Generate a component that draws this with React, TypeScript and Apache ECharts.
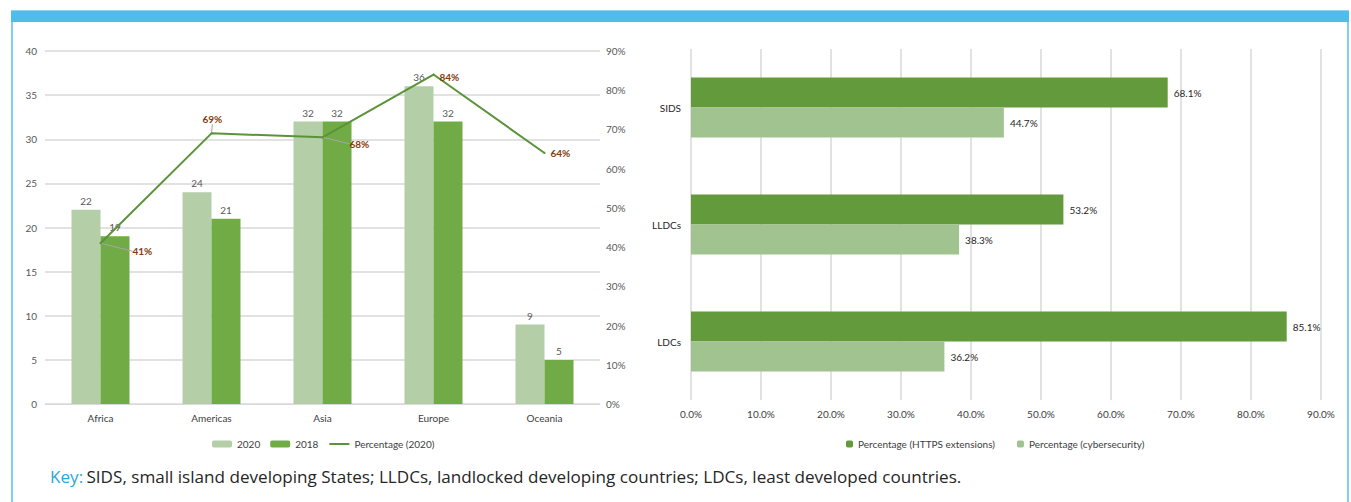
import React, { useEffect, useRef } from 'react';
import * as echarts from 'echarts';

const regions = ['Africa', 'Americas', 'Asia', 'Europe', 'Oceania'];
const count2020 = [22, 24, 32, 36, 9];
const count2018 = [19, 21, 32, 32, 5];
const pct2020 = [41, 69, 68, 84, 64];

const groups = ['LDCs', 'LLDCs', 'SIDS'];
const httpsPct = [85.1, 53.2, 68.1];
const cyberPct = [36.2, 38.3, 44.7];

const leftLegend = ['2020', '2018', 'Percentage (2020)'];
const rightLegend = ['Percentage (HTTPS extensions)', 'Percentage (cybersecurity)'];
const keyLabel = 'Key:';
const keyText = 'SIDS, small island developing States; LLDCs, landlocked developing countries; LDCs, least developed countries.';

const FONT = 'Lato';

// label offsets for the percentage line (style only)
const pctLabelShift = [
  { dx: 26, dy: 8, line: true },
  { dx: -15, dy: -14, line: true },
  { dx: 21, dy: 6.5, line: true },
  { dx: 0, dy: 2, line: false },
  { dx: 0, dy: 0, line: false },
];

export default function App() {
  const ref = useRef<HTMLDivElement>(null);
  useEffect(() => {
    if (!ref.current) return;
    const chart = echarts.init(ref.current, null, { renderer: 'svg' });
    const axisText = { color: '#595959', fontSize: 10, fontFamily: FONT };
    const option: any = {
      animation: false,
      textStyle: { fontFamily: FONT },
      graphic: [
        { type: 'rect', shape: { x: 11, y: 10, width: 1338, height: 12 }, style: { fill: '#4FBDEB' } },
        { type: 'rect', shape: { x: 11, y: 10, width: 1338, height: 1 }, style: { fill: '#8FD5F3' } },
        { type: 'rect', shape: { x: 11, y: 22, width: 2, height: 480 }, style: { fill: '#7FCFF0' } },
        { type: 'rect', shape: { x: 1347, y: 22, width: 2, height: 480 }, style: { fill: '#7FCFF0' } },
        {
          type: 'text',
          x: 50,
          y: 476,
          style: {
            text: `{k|${keyLabel}} {t|${keyText}}`,
            verticalAlign: 'middle',
            rich: {
              k: { fill: '#29A8E0', fontSize: 17.1, fontFamily: 'Open Sans' },
              t: { fill: '#262626', fontSize: 17.1, fontFamily: 'Open Sans' },
            },
          },
        },
      ],
      legend: [
        {
          data: [
            leftLegend[0],
            leftLegend[1],
            { name: leftLegend[2], itemStyle: { opacity: 0 } },
          ],
          left: 207,
          top: 434,
          itemWidth: 20,
          itemHeight: 7,
          itemGap: 10,
          textStyle: { color: '#404040', fontSize: 10, fontFamily: FONT },
        },
        {
          data: rightLegend,
          left: 841,
          top: 434,
          itemWidth: 7,
          itemHeight: 7,
          itemGap: 22,
          textStyle: { color: '#404040', fontSize: 10, fontFamily: FONT },
        },
      ],
      grid: [
        { left: 45, top: 51, width: 555, height: 353 },
        { left: 691, top: 49, width: 630, height: 351 },
      ],
      xAxis: [
        {
          type: 'category',
          gridIndex: 0,
          data: regions,
          axisLine: { lineStyle: { color: '#D9D9D9' } },
          axisTick: { show: false },
          axisLabel: { ...axisText, color: '#404040', margin: 9 },
        },
        {
          type: 'value',
          gridIndex: 1,
          min: 0,
          max: 90,
          interval: 10,
          axisLine: { show: false },
          axisTick: { show: false },
          splitLine: { lineStyle: { color: '#D9D9D9', width: 1.5 } },
          axisLabel: { ...axisText, color: '#404040', margin: 9, formatter: (v: number) => v.toFixed(1) + '%' },
        },
      ],
      yAxis: [
        {
          type: 'value',
          gridIndex: 0,
          min: 0,
          max: 40,
          interval: 5,
          axisLine: { show: false },
          axisTick: { show: false },
          splitLine: { lineStyle: { color: '#D9D9D9', width: 1.5 } },
          axisLabel: { ...axisText, margin: 8 },
        },
        {
          type: 'value',
          gridIndex: 0,
          position: 'right',
          min: 0,
          max: 90,
          interval: 10,
          axisLine: { show: false },
          axisTick: { show: false },
          splitLine: { show: false },
          axisLabel: { ...axisText, margin: 6, formatter: '{value}%' },
        },
        {
          type: 'category',
          gridIndex: 1,
          data: groups,
          axisLine: { show: false },
          axisTick: { show: false },
          axisLabel: { ...axisText, color: '#262626', margin: 10 },
        },
      ],
      series: [
        {
          name: '2020',
          type: 'bar',
          xAxisIndex: 0,
          yAxisIndex: 0,
          data: count2020,
          barWidth: 29,
          barGap: '0%',
          itemStyle: { color: '#B4CEA8' },
          label: { show: true, position: 'top', color: '#595959', fontSize: 10, distance: 4, fontFamily: FONT },
        },
        {
          name: '2018',
          type: 'bar',
          xAxisIndex: 0,
          yAxisIndex: 0,
          data: count2018,
          barWidth: 29,
          barGap: '0%',
          itemStyle: { color: '#70AB46' },
          label: { show: true, position: 'top', color: '#595959', fontSize: 10, distance: 4, fontFamily: FONT },
        },
        {
          name: 'Percentage (2020)',
          type: 'line',
          xAxisIndex: 0,
          yAxisIndex: 1,
          data: pct2020.map((v, i) => ({ value: v, labelLine: { show: pctLabelShift[i].line } })),
          symbol: 'circle',
          symbolSize: 2,
          itemStyle: { color: '#5B9338' },
          lineStyle: { color: '#5B9338', width: 2 },
          label: {
            show: true,
            position: 'right',
            distance: 5,
            formatter: '{c}%',
            color: '#843C0C',
            fontWeight: 'bold',
            fontSize: 10,
            fontFamily: FONT,
          },
          labelLine: { show: true, lineStyle: { color: '#A6A6A6', width: 1 } },
          labelLayout: (p: any) => ({ dx: pctLabelShift[p.dataIndex].dx, dy: pctLabelShift[p.dataIndex].dy }),
          z: 5,
        },
        {
          name: 'Percentage (HTTPS extensions)',
          type: 'bar',
          xAxisIndex: 1,
          yAxisIndex: 2,
          data: httpsPct,
          barWidth: 30,
          barGap: '0%',
          itemStyle: { color: '#629A3C' },
          label: { show: true, position: 'right', distance: 6, color: '#262626', fontSize: 10, fontFamily: FONT, formatter: (p: any) => p.value.toFixed(1) + '%' },
        },
        {
          name: 'Percentage (cybersecurity)',
          type: 'bar',
          xAxisIndex: 1,
          yAxisIndex: 2,
          data: cyberPct,
          barWidth: 30,
          barGap: '0%',
          itemStyle: { color: '#A1C38F' },
          label: { show: true, position: 'right', distance: 6, color: '#262626', fontSize: 10, fontFamily: FONT, formatter: (p: any) => p.value.toFixed(1) + '%' },
        },
      ],
    };
    chart.setOption(option);
    return () => chart.dispose();
  }, []);
  return <div ref={ref} style={{ position: 'absolute', left: 0, top: 0, width: 1351, height: 502, background: '#fff' }} />;
}
